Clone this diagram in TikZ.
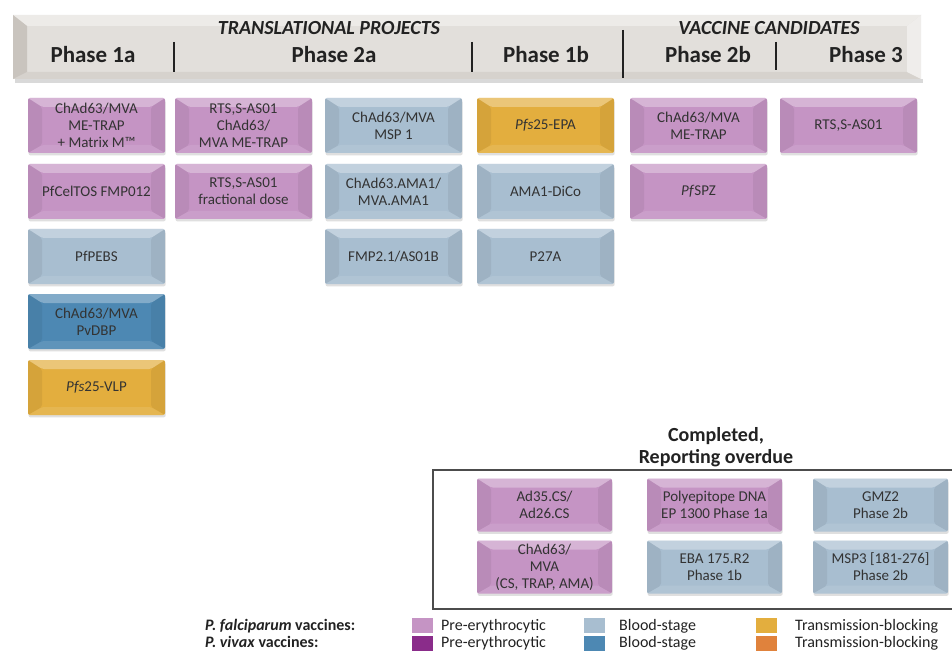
\documentclass[tikz,border=0pt]{standalone}
\usepackage{fontspec}
\setmainfont{Carlito}
\usetikzlibrary{shadows}
\definecolor{pfpre}{HTML}{C594C4}
\definecolor{pfblood}{HTML}{A8BED0}
\definecolor{pftrans}{HTML}{E3AE3E}
\definecolor{pvpre}{HTML}{8A2C8A}
\definecolor{pvblood}{HTML}{4D88B3}
\definecolor{pvtrans}{HTML}{E0823C}
\definecolor{boxtext}{HTML}{333333}
\definecolor{hdrfill}{HTML}{E2DFDB}
\definecolor{hdrtop}{HTML}{EDEBE8}
\definecolor{hdrleft}{HTML}{C9C4BE}
\definecolor{hdrright}{HTML}{EFEDEB}
\definecolor{hdrbottom}{HTML}{D6D2CD}
\definecolor{darktext}{HTML}{222222}
\tikzset{
  vaxbox/.style={rectangle, rounded corners=2pt, minimum width=137pt, minimum height=55pt,
    inner sep=1pt, align=center, font=\fontsize{15}{17}\selectfont, text=boxtext,
    drop shadow={opacity=0.25, shadow xshift=0.6pt, shadow yshift=-2.4pt},
    path picture={
      \fill[white, opacity=0.30] (path picture bounding box.north west) -- (path picture bounding box.north east)
        -- ([shift={(-14pt,-9pt)}]path picture bounding box.north east) -- ([shift={(14pt,-9pt)}]path picture bounding box.north west) -- cycle;
      \fill[black, opacity=0.06] (path picture bounding box.north west) -- ([shift={(14pt,-9pt)}]path picture bounding box.north west)
        -- ([shift={(14pt,8pt)}]path picture bounding box.south west) -- (path picture bounding box.south west) -- cycle;
      \fill[black, opacity=0.06] (path picture bounding box.north east) -- ([shift={(-14pt,-9pt)}]path picture bounding box.north east)
        -- ([shift={(-14pt,8pt)}]path picture bounding box.south east) -- (path picture bounding box.south east) -- cycle;
      \fill[white, opacity=0.10] (path picture bounding box.south west) -- ([shift={(14pt,8pt)}]path picture bounding box.south west)
        -- ([shift={(-14pt,8pt)}]path picture bounding box.south east) -- (path picture bounding box.south east) -- cycle;
    }},
  compbox/.style={vaxbox, minimum width=135pt, minimum height=53pt},
  pfpreb/.style={fill=pfpre},
  pfbloodb/.style={fill=pfblood},
  pftransb/.style={fill=pftrans},
  pvbloodb/.style={fill=pvblood},
  phaselabel/.style={anchor=base, font=\fontsize{23}{26}\selectfont\bfseries, text=darktext, inner sep=0pt},
  grouptitle/.style={anchor=base, font=\fontsize{20}{24}\selectfont\bfseries\itshape, text=darktext, inner sep=0pt},
  divider/.style={line width=2.6pt, darktext},
  legsq/.style={minimum width=21pt, minimum height=15pt, inner sep=0pt, anchor=north west},
  legtext/.style={anchor=base west, font=\fontsize{16}{19}\selectfont, text=darktext, inner sep=0pt},
}
\begin{document}
\begin{tikzpicture}[x=1pt, y=-1pt]
\useasboundingbox (0,0) rectangle (952,652);
\clip (0,0) rectangle (952,652);
\fill[white] (0,0) rectangle (952,652);

% ---------- header bar ----------
\fill[black, opacity=0.15] (15,79) rectangle (923,83);
\fill[hdrfill] (13,15) rectangle (921,79);
\fill[hdrtop] (13,15) -- (921,15) -- (907,26) -- (27,26) -- cycle;
\fill[hdrbottom] (13,79) -- (921,79) -- (907,72) -- (27,72) -- cycle;
\fill[hdrleft] (13,15) -- (27,26) -- (27,72) -- (13,79) -- cycle;
\fill[hdrright] (921,15) -- (907,26) -- (907,72) -- (921,79) -- cycle;

\node[grouptitle] (ttrans) at (329,35) {TRANSLATIONAL PROJECTS};
\node[grouptitle] (tvacc) at (769,35) {VACCINE CANDIDATES};
\node[phaselabel] (p1a) at (93,63) {Phase 1a};
\node[phaselabel] (p2a) at (334,63) {Phase 2a};
\node[phaselabel] (p1b) at (546,63) {Phase 1b};
\node[phaselabel] (p2b) at (708,63) {Phase 2b};
\node[phaselabel] (p3) at (866,63) {Phase 3};
\draw[divider] (174,42) -- (174,72);
\draw[divider] (472,42) -- (472,72);
\draw[divider] (623,30) -- (623,78);
\draw[divider] (776,42) -- (776,70);

% ---------- column Phase 1a ----------
\node[vaxbox, pfpreb] (a1) at (96.5,125.5) {ChAd63/MVA\\ME-TRAP\\+ Matrix M™};
\node[vaxbox, pfpreb] (a2) at (96.5,191.5) {PfCelTOS FMP012};
\node[vaxbox, pfbloodb] (a3) at (96.5,256.5) {PfPEBS};
\node[vaxbox, pvbloodb] (a4) at (96.5,321.5) {ChAd63/MVA\\PvDBP};
\node[vaxbox, pftransb] (a5) at (96.5,387.5) {\textit{Pfs}25-VLP};

% ---------- Phase 2a ----------
\node[vaxbox, pfpreb] (b1) at (243.5,125.5) {RTS,S-AS01\\ChAd63/\\MVA ME-TRAP};
\node[vaxbox, pfpreb] (b2) at (243.5,191.5) {RTS,S-AS01\\fractional dose};
\node[vaxbox, pfbloodb] (c1) at (393.5,125.5) {ChAd63/MVA\\MSP 1};
\node[vaxbox, pfbloodb] (c2) at (393.5,191.5) {ChAd63.AMA1/\\MVA.AMA1};
\node[vaxbox, pfbloodb] (c3) at (393.5,256.5) {FMP2.1/AS01B};

% ---------- Phase 1b ----------
\node[vaxbox, pftransb] (d1) at (545.5,125.5) {\textit{Pfs}25-EPA};
\node[vaxbox, pfbloodb] (d2) at (545.5,191.5) {AMA1-DiCo};
\node[vaxbox, pfbloodb] (d3) at (545.5,256.5) {P27A};

% ---------- Phase 2b ----------
\node[vaxbox, pfpreb] (e1) at (698.5,125.5) {ChAd63/MVA\\ME-TRAP};
\node[vaxbox, pfpreb] (e2) at (698.5,191.5) {\textit{Pf}SPZ};

% ---------- Phase 3 ----------
\node[vaxbox, pfpreb] (f1) at (848.5,125.5) {RTS,S-AS01};

% ---------- Completed, reporting overdue ----------
\node[align=center, font=\fontsize{20}{22}\selectfont\bfseries, text=darktext, inner sep=0pt] (comptitle) at (716,447) {Completed,\\Reporting overdue};
\draw[line width=1.1pt, black!70] (433,470) rectangle (960,609);
\node[compbox, pfpreb] (g1) at (544.5,505) {Ad35.CS/\\Ad26.CS};
\node[compbox, pfpreb] (g2) at (714.5,505) {Polyepitope DNA\\EP 1300 Phase 1a};
\node[compbox, pfbloodb] (g3) at (880.5,505) {GMZ2\\Phase 2b};
\node[compbox, pfpreb] (h1) at (544.5,567) {ChAd63/\\MVA\\(CS, TRAP, AMA)};
\node[compbox, pfbloodb] (h2) at (714.5,567) {EBA 175.R2\\Phase 1b};
\node[compbox, pfbloodb] (h3) at (880.5,567) {MSP3 [181-276]\\Phase 2b};

% ---------- legend ----------
\node[legtext, font=\fontsize{16}{19}\selectfont\bfseries] (lpf) at (205,630) {\textit{P. falciparum} vaccines:};
\node[legtext, font=\fontsize{16}{19}\selectfont\bfseries] (lpv) at (205,647) {\textit{P. vivax} vaccines:};
\node[legsq, fill=pfpre] (sq1) at (412,618) {};
\node[legtext] (lt1) at (441,630) {Pre-erythrocytic};
\node[legsq, fill=pfblood] (sq2) at (584,618) {};
\node[legtext] (lt2) at (619,630) {Blood-stage};
\node[legsq, fill=pftrans] (sq3) at (756,618) {};
\node[legtext] (lt3) at (795,630) {Transmission-blocking};
\node[legsq, fill=pvpre] (sq4) at (412,636) {};
\node[legtext] (lt4) at (441,647) {Pre-erythrocytic};
\node[legsq, fill=pvblood] (sq5) at (584,636) {};
\node[legtext] (lt5) at (619,647) {Blood-stage};
\node[legsq, fill=pvtrans] (sq6) at (756,636) {};
\node[legtext] (lt6) at (795,647) {Transmission-blocking};
\end{tikzpicture}
\end{document}
